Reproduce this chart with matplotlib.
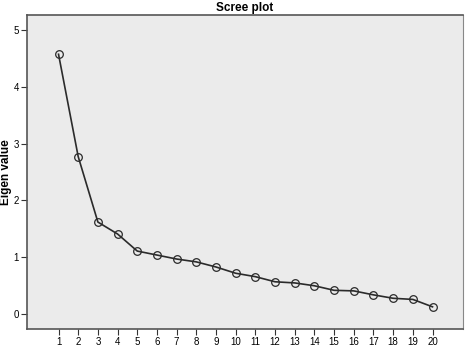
import matplotlib
matplotlib.use("Agg")
import matplotlib.pyplot as plt

plt.rcParams['font.family'] = ['Liberation Sans', 'DejaVu Sans']

components = list(range(1, 21))
eigenvalues = [4.57, 2.77, 1.62, 1.41, 1.11, 1.04, 0.97, 0.92, 0.83, 0.72,
               0.66, 0.57, 0.55, 0.50, 0.42, 0.41, 0.34, 0.28, 0.26, 0.13]
yticks = [0, 1, 2, 3, 4, 5]

fig = plt.figure(figsize=(4.66, 3.53), dpi=100)
ax = fig.add_axes([0.058, 0.068, 0.9356, 0.8895])
ax.set_facecolor('#ebebeb')

ax.plot(components, eigenvalues, color='#2b2b2b', lw=1.2,
        marker='o', markersize=5.5, markerfacecolor='none',
        markeredgecolor='#2b2b2b', markeredgewidth=0.9)

ax.set_xlim(-0.6, 21.55)
ax.set_ylim(-0.26, 5.26)
ax.set_xticks(components)
ax.set_yticks(yticks)
ax.tick_params(labelsize=7, length=4, width=0.8, color='#333333', pad=2)

for side in ['left', 'bottom', 'top']:
    ax.spines[side].set_color('#555555')
    ax.spines[side].set_linewidth(1.2)
ax.spines['right'].set_color('#888888')

ax.set_title('Scree plot', fontsize=8.5, fontweight='bold', pad=3)
ax.set_ylabel('Eigen value', fontsize=8.5, fontweight='bold', va='center')
ax.yaxis.set_label_coords(-0.048, 0.5)

fig.savefig('out.png', dpi=100, facecolor='white')
